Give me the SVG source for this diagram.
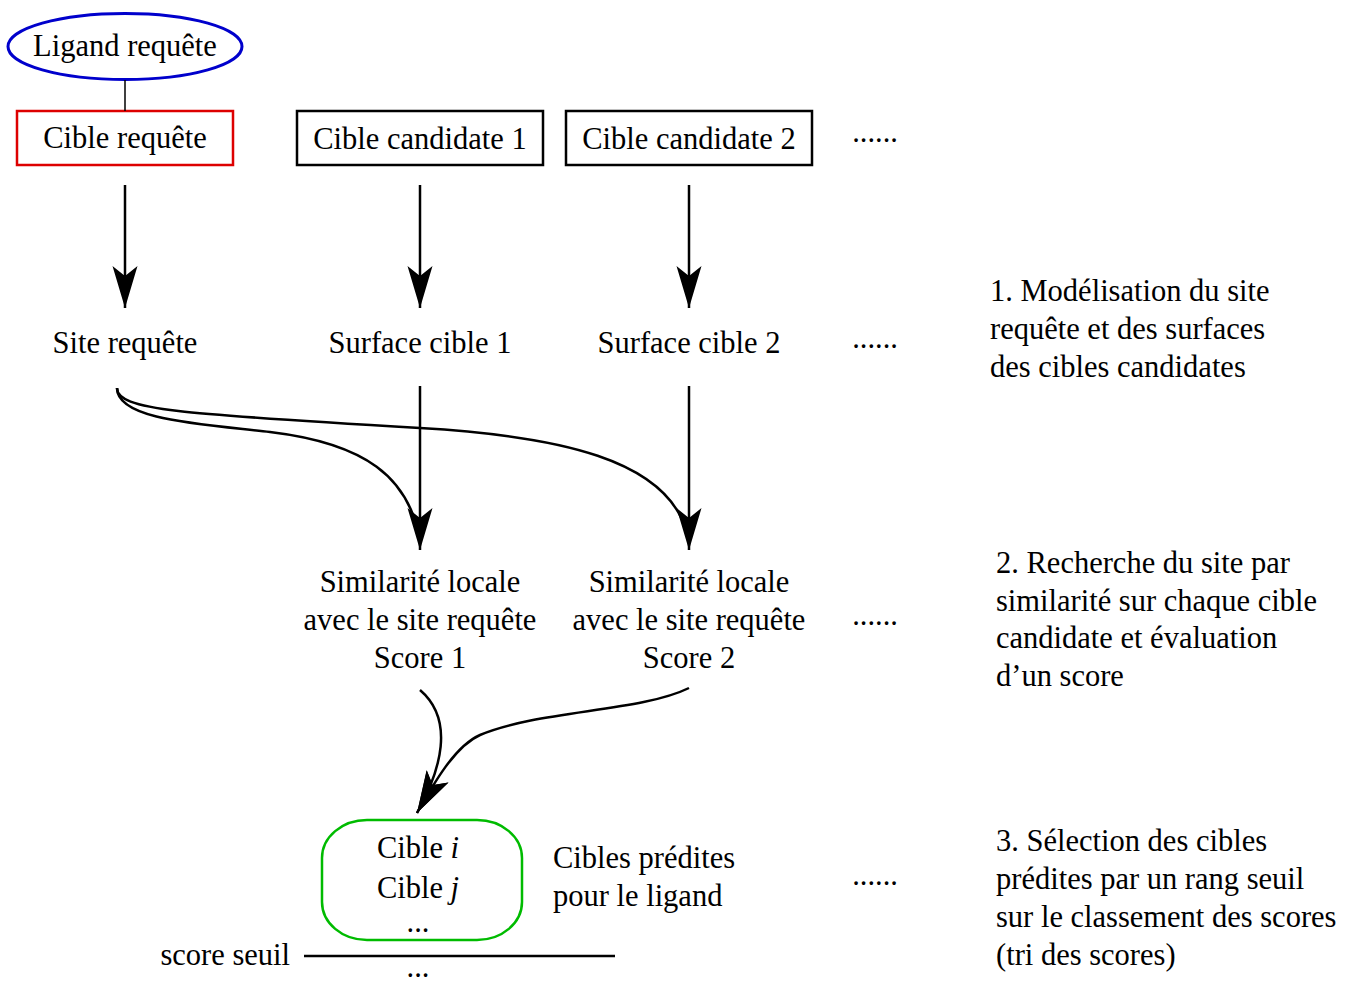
<svg xmlns="http://www.w3.org/2000/svg" width="1353" height="983" viewBox="0 0 1353 983">
<style>
text{font-family:"Liberation Serif","Times New Roman",serif;font-size:30.5px;fill:#000}
.c{text-anchor:middle}
.l{fill:none;stroke:#000;stroke-width:2.5}
.box{fill:none;stroke:#000;stroke-width:2.5}
</style>
<defs>
<marker id="ah" viewBox="-2 -13 46 26" refX="42" refY="0" markerWidth="46" markerHeight="26" markerUnits="userSpaceOnUse" orient="auto">
<path d="M42,0 L0,-12.5 L10,0 L0,12.5 Z" fill="#000"/>
</marker>
</defs>
<rect width="1353" height="983" fill="#fff"/>
<g id="ligand">
<ellipse cx="125" cy="46.5" rx="117" ry="33" fill="none" stroke="#0000cc" stroke-width="3"/>
<text class="c" x="125" y="56">Ligand requête</text>
</g>
<g id="cible-requete">
<rect x="17" y="111" width="216" height="54" fill="none" stroke="#dd0000" stroke-width="2.5"/>
<text class="c" x="125" y="148">Cible requête</text>
</g>
<g id="cand1">
<rect class="box" x="297" y="111" width="246" height="54"/>
<text class="c" x="420" y="149">Cible candidate 1</text>
</g>
<g id="cand2">
<rect class="box" x="566" y="111" width="246" height="54"/>
<text class="c" x="689" y="149">Cible candidate 2</text>
</g>
<g id="dots1"><text class="c" x="875" y="142">......</text></g>
<g id="site"><text class="c" x="125" y="353">Site requête</text></g>
<g id="surf1"><text class="c" x="420" y="353">Surface cible 1</text></g>
<g id="surf2"><text class="c" x="689" y="353">Surface cible 2</text></g>
<g id="dots2"><text class="c" x="875" y="348">......</text></g>
<g id="step1">
<text x="990" y="301">1. Modélisation du site</text>
<text x="990" y="339">requête et des surfaces</text>
<text x="990" y="377">des cibles candidates</text>
</g>
<g id="sim1">
<text class="c" x="420" y="592">Similarité locale</text>
<text class="c" x="420" y="630">avec le site requête</text>
<text class="c" x="420" y="668">Score 1</text>
</g>
<g id="sim2">
<text class="c" x="689" y="592">Similarité locale</text>
<text class="c" x="689" y="630">avec le site requête</text>
<text class="c" x="689" y="668">Score 2</text>
</g>
<g id="dots3"><text class="c" x="875" y="625">......</text></g>
<g id="step2">
<text x="996" y="573">2. Recherche du site par</text>
<text x="996" y="611">similarité sur chaque cible</text>
<text x="996" y="648">candidate et évaluation</text>
<text x="996" y="686">d’un score</text>
</g>
<g id="predites">
<rect x="322" y="820" width="200" height="120" rx="45" ry="38" fill="none" stroke="#00bb00" stroke-width="2.5"/>
<text class="c" x="418" y="858">Cible <tspan font-style="italic">i</tspan></text>
<text class="c" x="418" y="898">Cible <tspan font-style="italic">j</tspan></text>
<text class="c" x="418" y="932" font-size="24">...</text>
</g>
<g id="label-predites">
<text x="553" y="868">Cibles prédites</text>
<text x="553" y="906">pour le ligand</text>
</g>
<g id="dots4"><text class="c" x="875" y="885">......</text></g>
<g id="step3">
<text x="996" y="851">3. Sélection des cibles</text>
<text x="996" y="889">prédites par un rang seuil</text>
<text x="996" y="927">sur le classement des scores</text>
<text x="996" y="965">(tri des scores)</text>
</g>
<g id="seuil">
<text x="290" y="965" text-anchor="end">score seuil</text>
<text class="c" x="418" y="977" font-size="26">...</text>
</g>
<g id="connectors">
<line x1="125" y1="80" x2="125" y2="111" stroke="#000" stroke-width="1.5"/>
<path class="l" d="M125,185 L125,308" marker-end="url(#ah)"/>
<path class="l" d="M420,185 L420,308" marker-end="url(#ah)"/>
<path class="l" d="M689,185 L689,308" marker-end="url(#ah)"/>
<path class="l" d="M420,386 L420,550" marker-end="url(#ah)"/>
<path class="l" d="M689,386 L689,550" marker-end="url(#ah)"/>
<path class="l" d="M117,388 C117,420 200,424 270,432 C370,444 405,480 418,530"/>
<path class="l" d="M117,388 C117,410 180,414 420,428 C560,436 665,460 686,530"/>
<path class="l" d="M420,690 C455,720 441,770 417,813" marker-end="url(#ah)"/>
<path class="l" d="M689,688 C640,712 540,710 480,735 C455,746 434,783 417,813" marker-end="url(#ah)"/>
<line x1="304" y1="956" x2="615" y2="956" stroke="#000" stroke-width="2.5"/>
</g>
</svg>
